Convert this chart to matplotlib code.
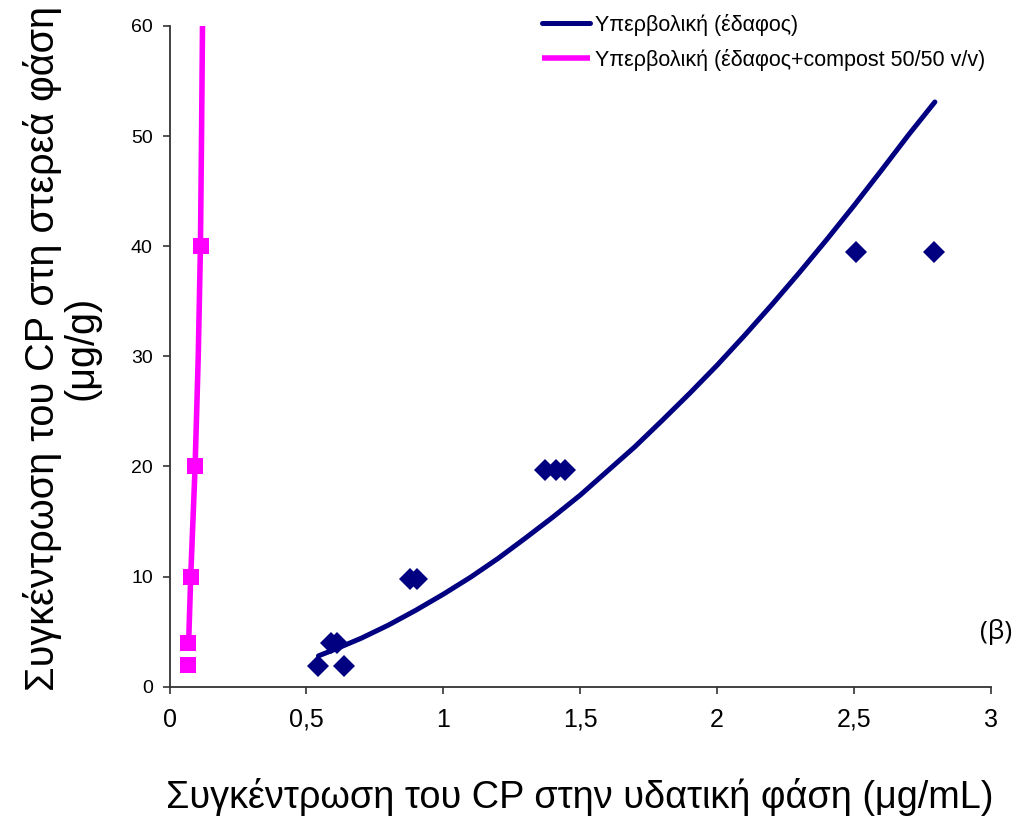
import matplotlib
matplotlib.use("Agg")
import matplotlib.pyplot as plt

# Measured sorption data: soil
soil_x = [0.544, 0.638, 0.59, 0.61, 0.88, 0.904, 1.371, 1.41, 1.443, 2.507, 2.791]
soil_y = [1.9, 1.9, 3.95, 3.95, 9.8, 9.8, 19.7, 19.7, 19.7, 39.5, 39.5]

# Measured sorption data: soil + compost 50/50 v/v
mix_x = [0.068, 0.068, 0.0775, 0.094, 0.114]
mix_y = [2, 4, 10, 20, 40]

# Fitted hyperbolic isotherm curves
soil_fit_x = [0.544, 0.6, 0.7, 0.8, 0.9, 1.0, 1.1, 1.2, 1.3, 1.4, 1.5, 1.6, 1.7,
              1.8, 1.9, 2.0, 2.1, 2.2, 2.3, 2.4, 2.5, 2.6, 2.7, 2.795]
soil_fit_y = [2.8, 3.35, 4.4, 5.6, 6.95, 8.4, 9.95, 11.65, 13.5, 15.4, 17.4, 19.6, 21.8,
              24.2, 26.65, 29.2, 31.9, 34.7, 37.6, 40.6, 43.7, 46.9, 50.15, 53.1]
mix_fit_x = [0.069, 0.0775, 0.0935, 0.105, 0.113, 0.117, 0.1205]
mix_fit_y = [3.3, 10, 20, 30, 40, 50, 60]

x_ticks = [0, 0.5, 1, 1.5, 2, 2.5, 3]
x_tick_labels = ["0", "0,5", "1", "1,5", "2", "2,5", "3"]
y_ticks = [0, 10, 20, 30, 40, 50, 60]

legend_labels = ["Υπερβολική (έδαφος)", "Υπερβολική (έδαφος+compost 50/50 v/v)"]
x_label = "Συγκέντρωση του CP στην υδατική φάση (μg/mL)"
y_label = "Συγκέντρωση του CP στη στερεά φάση\n(μg/g)"

NAVY = "#000080"
MAGENTA = "#FF00FF"
SANS = ["Liberation Sans", "DejaVu Sans"]

plt.rcParams["font.family"] = SANS

W, H = 1017, 817
fig = plt.figure(figsize=(W / 100, H / 100), dpi=100)
left, right, top, bottom = 169.5, 991.0, 26.0, 686.7
ax = fig.add_axes([left / W, 1 - bottom / H, (right - left) / W, (bottom - top) / H])

l1, = ax.plot(soil_fit_x, soil_fit_y, color=NAVY, lw=3.6, solid_capstyle="round",
              solid_joinstyle="round", label=legend_labels[0], zorder=3)
l2, = ax.plot(mix_fit_x, mix_fit_y, color=MAGENTA, lw=4.0, solid_capstyle="butt",
              label=legend_labels[1], zorder=3)
ax.plot(soil_x, soil_y, linestyle="none", marker="D", markersize=11,
        color=NAVY, markeredgewidth=0, zorder=4)
ax.plot(mix_x, mix_y, linestyle="none", marker="s", markersize=12,
        color=MAGENTA, markeredgewidth=0, zorder=4)

ax.set_xlim(0, 3)
ax.set_ylim(0, 60)
ax.set_xticks(x_ticks)
ax.set_xticklabels(x_tick_labels, fontsize=18)
ax.set_yticks(y_ticks)
ax.set_yticklabels([str(v) for v in y_ticks], fontsize=14)

for side in ("top", "right"):
    ax.spines[side].set_visible(False)
for side in ("left", "bottom"):
    ax.spines[side].set_color("#333333")
    ax.spines[side].set_linewidth(1.3)
ax.tick_params(axis="both", direction="out", length=5, width=1.2, color="#333333")
ax.tick_params(axis="x", pad=10)
ax.tick_params(axis="y", pad=7)

fig.text((left + right) / 2 / W, 1 - 797 / H, x_label,
         fontsize=27.3, ha="center", va="center")
fig.text(62 / W, 1 - 348 / H, y_label, fontsize=28.5,
         rotation=90, ha="center", va="center", multialignment="center",
         linespacing=1.0)

leg = fig.legend(handles=[l1, l2], labels=legend_labels, loc="upper left",
                 bbox_to_anchor=(542 / W, 1 - 14 / H), frameon=False,
                 fontsize=15.5, handlelength=2.25, handletextpad=0.2,
                 labelspacing=0.6, borderaxespad=0, borderpad=0)

fig.text(996 / W, 1 - 632 / H, "(β)", family=["Open Sans", "DejaVu Sans"],
         fontsize=19, ha="center", va="center")

fig.savefig("out.png", dpi=100)
